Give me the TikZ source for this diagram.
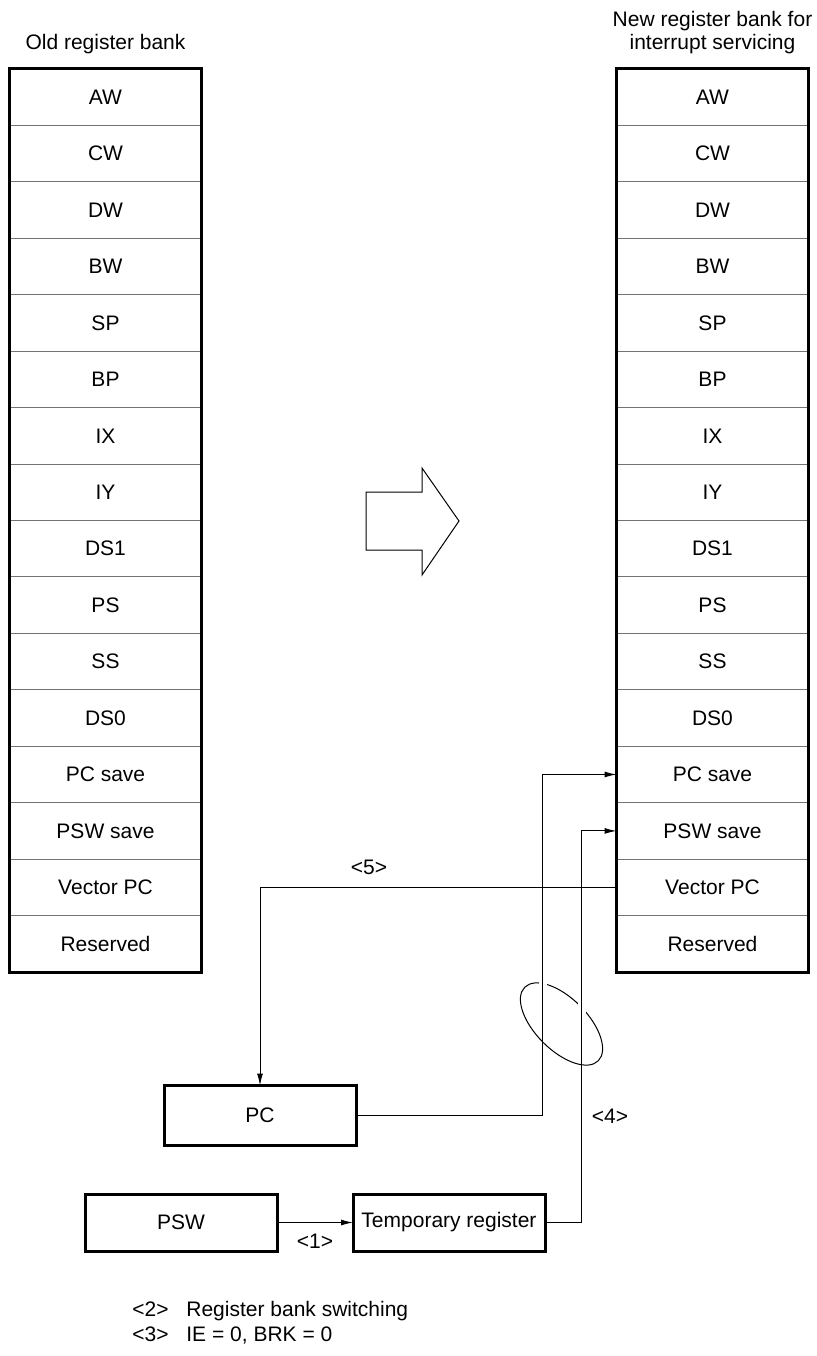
\documentclass[tikz,border=0pt]{standalone}
\usepackage{fontspec}
\setmainfont{Liberation Sans}
\usetikzlibrary{arrows.meta, positioning}
\newcommand\regfont{\fontsize{10.5}{11.5}\selectfont}

\begin{document}
\begin{tikzpicture}[
    x=0.5pt, y=-0.5pt,
    regbox/.style={draw=black!55, line width=0.5pt, minimum width=96pt, minimum height=28.22pt, inner sep=0pt, outer sep=0pt, font=\regfont},
    regnode/.style={draw, line width=1.5pt, minimum width=96pt, minimum height=28.5pt, inner sep=0pt, outer sep=0pt, font=\regfont},
    bankframe/.style={draw, line width=1.5pt},
    conn/.style={draw, line width=0.5pt},
    tip/.style={-{Latex[length=6pt,width=3pt]}},
    lbl/.style={font=\regfont, inner sep=0pt},
    head/.style={font=\regfont, align=center, inner sep=0pt}
]
\useasboundingbox (0,0) rectangle (817,1356);

% old register bank
\node[regbox] (o1) at (105.5,97.2) {AW};
\node[regbox, below=0pt of o1] (o2) {CW};
\node[regbox, below=0pt of o2] (o3) {DW};
\node[regbox, below=0pt of o3] (o4) {BW};
\node[regbox, below=0pt of o4] (o5) {SP};
\node[regbox, below=0pt of o5] (o6) {BP};
\node[regbox, below=0pt of o6] (o7) {IX};
\node[regbox, below=0pt of o7] (o8) {IY};
\node[regbox, below=0pt of o8] (o9) {DS1};
\node[regbox, below=0pt of o9] (o10) {PS};
\node[regbox, below=0pt of o10] (o11) {SS};
\node[regbox, below=0pt of o11] (o12) {DS0};
\node[regbox, below=0pt of o12] (o13) {PC save};
\node[regbox, below=0pt of o13] (o14) {PSW save};
\node[regbox, below=0pt of o14] (o15) {Vector PC};
\node[regbox, below=0pt of o15] (o16) {Reserved};
\draw[bankframe] (o1.north west) rectangle (o16.south east);
\node[head, above=7.3pt of o1] (ohead) {Old register bank};

% new register bank
\node[regbox] (n1) at (712.5,97.2) {AW};
\node[regbox, below=0pt of n1] (n2) {CW};
\node[regbox, below=0pt of n2] (n3) {DW};
\node[regbox, below=0pt of n3] (n4) {BW};
\node[regbox, below=0pt of n4] (n5) {SP};
\node[regbox, below=0pt of n5] (n6) {BP};
\node[regbox, below=0pt of n6] (n7) {IX};
\node[regbox, below=0pt of n7] (n8) {IY};
\node[regbox, below=0pt of n8] (n9) {DS1};
\node[regbox, below=0pt of n9] (n10) {PS};
\node[regbox, below=0pt of n10] (n11) {SS};
\node[regbox, below=0pt of n11] (n12) {DS0};
\node[regbox, below=0pt of n12] (n13) {PC save};
\node[regbox, below=0pt of n13] (n14) {PSW save};
\node[regbox, below=0pt of n14] (n15) {Vector PC};
\node[regbox, below=0pt of n15] (n16) {Reserved};
\draw[bankframe] (n1.north west) rectangle (n16.south east);
\node[head, above=7.3pt of n1] (nhead) {New register bank for\\interrupt servicing};

% hollow arrow between the banks
\draw[line width=0.5pt] (366,492) -- (422,492) -- (422,468) -- (459,521) -- (422,575) -- (422,550) -- (366,550) -- cycle;

% registers
\node[regnode, minimum height=30pt] (pc) at (260,1115.5) {PC};
\node[regnode] (psw) at (181,1222.5) {PSW};
\node[regnode, right=38pt of psw] (tmp) {Temporary register};

% ring round the two save paths
\draw[line width=0.5pt, rotate around={-45:(561.5,1024)}] (561.5,1024) ellipse (52 and 26);
\fill[white] (539,979) rectangle (547,988);
\fill[white] (578,1003) rectangle (586,1013);

% connectors
\draw[conn, tip] (psw) -- (tmp) node[lbl, midway, below=5.5pt] (l1) {<1>};
\draw[conn, tip] (n15.west) -| (pc.north);
\draw[conn, tip] (pc.east) -| ([xshift=-37pt]n13.west) -- (n13.west);
\draw[conn, tip] (tmp.east) -| ([xshift=-17.5pt]n14.west) -- (n14.west);
\node[lbl] (l5) at (369,867) {<5>};
\node[lbl] (l4) at (610,1116) {<4>};

% notes
\node[lbl, anchor=base west] (k2) at (132,1316) {<2>};
\node[lbl, anchor=base west] (t2) at (186,1316) {Register bank switching};
\node[lbl, anchor=base west] (k3) at (132,1341) {<3>};
\node[lbl, anchor=base west] (t3) at (186,1341) {IE = 0, BRK = 0};
\end{tikzpicture}
\end{document}
